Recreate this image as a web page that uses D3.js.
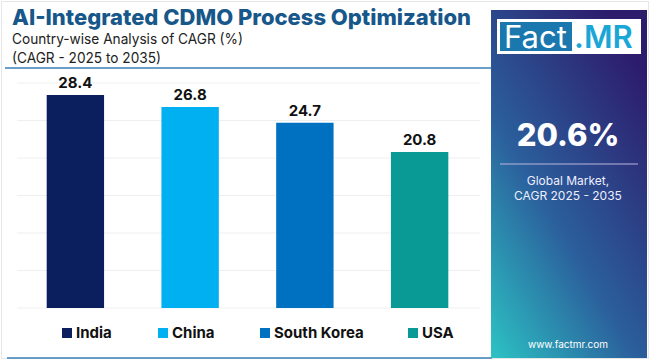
<!DOCTYPE html>
<html>
<head>
<meta charset="utf-8">
<script src="https://cdn.jsdelivr.net/npm/d3@7"></script>
<style>
  body { margin: 0; background: #fff; }
  svg { display: block; font-family: "Inter", "Open Sans", sans-serif; }
</style>
</head>
<body>
<div id="chart"></div>
<script>
// data
var countries = ["India", "China", "South Korea", "USA"];
var cagr = [28.4, 26.8, 24.7, 20.8];
var barColors = ["#0b1f5f", "#00b0f0", "#0070c0", "#0a9a96"];
var gridTicks = [0, 5, 10, 15, 20, 25, 30];
var globalCagr = "20.6%";

var width = 650, height = 360;

var svg = d3.select("#chart").append("svg")
    .attr("width", width)
    .attr("height", height);

// faint frame
svg.append("rect")
  .attr("x", 1.5).attr("y", 1.5)
  .attr("width", width - 3).attr("height", height - 3)
  .style("fill", "none")
  .style("stroke", "#e6e6e6");

// title block
svg.append("text")
  .attr("x", 12).attr("y", 25)
  .attr("textLength", 459)
  .attr("lengthAdjust", "spacingAndGlyphs")
  .text("AI-Integrated CDMO Process Optimization")
  .style("font-size", "22px")
  .style("font-weight", "800")
  .style("fill", "#17578a");

svg.append("text")
  .attr("x", 12).attr("y", 44)
  .attr("textLength", 231)
  .attr("lengthAdjust", "spacingAndGlyphs")
  .text("Country-wise Analysis of CAGR (%)")
  .style("font-size", "14.5px")
  .style("fill", "#222");

svg.append("text")
  .attr("x", 12).attr("y", 63)
  .attr("textLength", 149)
  .attr("lengthAdjust", "spacingAndGlyphs")
  .text("(CAGR - 2025 to 2035)")
  .style("font-size", "14.5px")
  .style("fill", "#222");

svg.append("line")
  .attr("x1", 5).attr("x2", 492)
  .attr("y1", 68).attr("y2", 68)
  .style("stroke", "#3a7fb5")
  .style("stroke-width", 1.5);

svg.append("line")
  .attr("x1", 7).attr("x2", 492)
  .attr("y1", 358).attr("y2", 358)
  .style("stroke", "#3a7fb5")
  .style("stroke-width", 1.5);

// scales
var xScale = d3.scaleBand()
  .domain(countries)
  .range([18, 477])
  .paddingInner(0.5)
  .paddingOuter(0.25);

var yScale = d3.scaleLinear()
  .domain([0, 30])
  .range([308, 83]);

var colorScale = d3.scaleOrdinal()
  .domain(countries)
  .range(barColors);

var rows = countries.map(function(c, i) { return {country: c, value: cagr[i]}; });

// gridlines
svg.selectAll(".grid")
  .data(gridTicks)
 .enter()
  .append("line")
  .attr("class", "grid")
  .attr("x1", 17).attr("x2", 480)
  .attr("y1", function(d) { return yScale(d); })
  .attr("y2", function(d) { return yScale(d); })
  .style("stroke", "#efefef")
  .style("stroke-width", 1);

// bars
svg.selectAll(".bar")
  .data(rows)
 .enter()
  .append("rect")
  .attr("class", "bar")
  .attr("x", function(d) { return xScale(d.country); })
  .attr("y", function(d) { return yScale(d.value); })
  .attr("width", xScale.bandwidth())
  .attr("height", function(d) { return yScale(0) - yScale(d.value); })
  .style("fill", function(d) { return colorScale(d.country); });

svg.selectAll(".barLabel")
  .data(rows)
 .enter()
  .append("text")
  .attr("class", "barLabel")
  .attr("text-anchor", "middle")
  .attr("x", function(d) { return xScale(d.country) + xScale.bandwidth() / 2; })
  .attr("y", function(d) { return yScale(d.value) - 7; })
  .text(function(d) { return d.value.toFixed(1); })
  .style("font-size", "15px")
  .style("font-weight", "700")
  .style("fill", "#111");

// legend
var legendX = [62, 158, 260, 408];
var legend = svg.selectAll(".legendItem")
  .data(countries)
 .enter()
  .append("g")
  .attr("class", "legendItem")
  .attr("transform", function(d, i) { return "translate(" + legendX[i] + ",328)"; });

legend.append("rect")
  .attr("width", 10).attr("height", 10)
  .style("fill", function(d) { return colorScale(d); });

legend.append("text")
  .attr("x", 14).attr("y", 9.5)
  .text(function(d) { return d; })
  .style("font-size", "15px")
  .style("font-weight", "700")
  .style("fill", "#111");

// side panel
var defs = svg.append("defs");
var grad = defs.append("linearGradient")
  .attr("id", "panelGrad")
  .attr("x1", "0").attr("y1", "1")
  .attr("x2", "0.75").attr("y2", "0");
grad.append("stop").attr("offset", "0").attr("stop-color", "#2cc3c4");
grad.append("stop").attr("offset", "0.45").attr("stop-color", "#2b5f9c");
grad.append("stop").attr("offset", "1").attr("stop-color", "#2d1b6c");

svg.append("rect")
  .attr("x", 491).attr("y", 10)
  .attr("width", 156).attr("height", 348)
  .style("fill", "url(#panelGrad)");

// logo
svg.append("rect")
  .attr("x", 497).attr("y", 19)
  .attr("width", 144).attr("height", 35)
  .style("fill", "#fff");
svg.append("rect")
  .attr("x", 500).attr("y", 22)
  .attr("width", 72).attr("height", 29)
  .style("fill", "#1a78ae");
svg.append("text")
  .attr("x", 504).attr("y", 48)
  .text("Fact")
  .style("font-size", "31px")
  .style("font-weight", "400")
  .style("fill", "#fff");
svg.append("text")
  .attr("x", 574).attr("y", 48)
  .text(".MR")
  .style("font-size", "31px")
  .style("font-weight", "600")
  .style("fill", "#1aa6d6");

svg.append("text")
  .attr("x", 568).attr("y", 146)
  .attr("text-anchor", "middle")
  .text(globalCagr)
  .style("font-size", "31px")
  .style("font-weight", "800")
  .style("fill", "#fff");

svg.append("line")
  .attr("x1", 500).attr("x2", 638)
  .attr("y1", 164).attr("y2", 164)
  .style("stroke", "#b9b6e0")
  .style("stroke-width", 1.2);

svg.append("text")
  .attr("x", 568).attr("y", 185)
  .attr("text-anchor", "middle")
  .text("Global Market,")
  .style("font-size", "12px")
  .style("fill", "#eef");
svg.append("text")
  .attr("x", 568).attr("y", 200)
  .attr("text-anchor", "middle")
  .text("CAGR 2025 - 2035")
  .style("font-size", "12px")
  .style("fill", "#eef");

svg.append("text")
  .attr("x", 568).attr("y", 348)
  .attr("text-anchor", "middle")
  .text("www.factmr.com")
  .style("font-size", "10px")
  .style("fill", "#fff");
</script>
</body>
</html>
